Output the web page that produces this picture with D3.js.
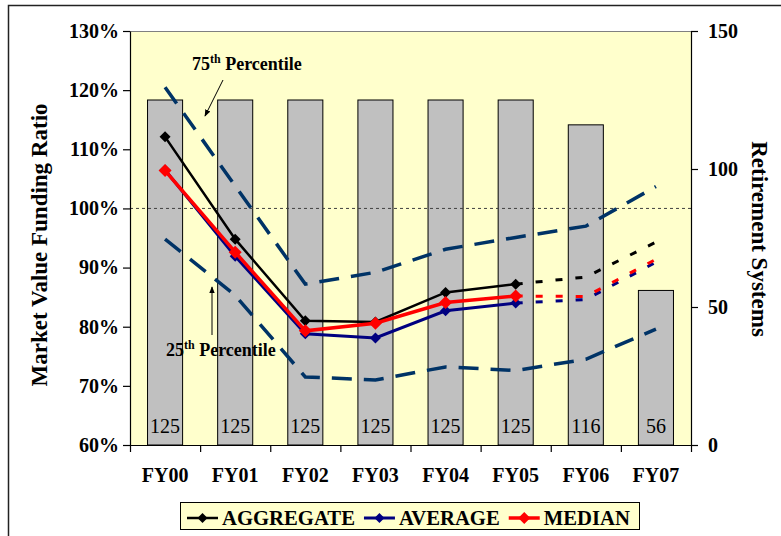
<!DOCTYPE html>
<html>
<head>
<meta charset="utf-8">
<script src="https://cdn.jsdelivr.net/npm/d3@7"></script>
<style>
	body { margin: 0; background: #fff; }
	svg text { font-family: "Times New Roman", "Liberation Serif", serif; font-weight: bold; }
</style>
</head>
<body>
<div id="chartDiv"></div>
<script>
;(function() {

	// data
	var categories = ["FY00", "FY01", "FY02", "FY03", "FY04", "FY05", "FY06", "FY07"];
	var systemCounts = [125, 125, 125, 125, 125, 125, 116, 56];

	var aggregate = [1.121, 0.948, 0.810, 0.808, 0.858, 0.872];
	var average = [1.065, 0.919, 0.788, 0.781, 0.827, 0.840];
	var median = [1.064, 0.926, 0.793, 0.806, 0.841, 0.852];

	// projected (dotted) FY05 -> FY07
	var projCategories = ["FY05", "FY06", "FY07"];
	var aggregateProj = [0.872, 0.884, 0.943];
	var averageProj = [0.840, 0.846, 0.909];
	var medianProj = [0.852, 0.851, 0.914];

	var pct75 = [1.205, 1.038, 0.872, 0.892, 0.931, 0.951, 0.970, 1.037];
	var pct25 = [0.948, 0.853, 0.715, 0.710, 0.732, 0.726, 0.745, 0.796];

	var leftTicks = [0.6, 0.7, 0.8, 0.9, 1.0, 1.1, 1.2, 1.3];
	var rightTicks = [0, 50, 100, 150];

	var width = 781;
	var height = 536;
	var margin = { top: 31, right: 90, bottom: 91, left: 130 };
	var chartWidth = width - margin.left - margin.right;   // 561
	var chartHeight = height - margin.top - margin.bottom; // 414

	var series = [
		{ name: "AGGREGATE", color: "#000000", values: aggregate, proj: aggregateProj, width: 2.5, r: 5.5 },
		{ name: "AVERAGE", color: "#000080", values: average, proj: averageProj, width: 3, r: 5.5 },
		{ name: "MEDIAN", color: "#ff0000", values: median, proj: medianProj, width: 3.5, r: 6.5 }
	];

	var chart = d3.select("#chartDiv").append("svg")
		.attr("width", width)
		.attr("height", height);

	// outer frame
	chart.append("rect")
		.attr("x", 8.5).attr("y", 5.5)
		.attr("width", 900).attr("height", 900)
		.attr("fill", "none")
		.attr("stroke", "#222")
		.attr("stroke-width", 1.5);

	var xScale = d3.scaleBand()
		.domain(categories)
		.range([0, chartWidth])
		.paddingInner(0.5)
		.paddingOuter(0.25);
	var xEdge = d3.scaleLinear().domain([0, categories.length]).range([0, chartWidth]);
	var yScale = d3.scaleLinear().domain([0.6, 1.3]).range([chartHeight, 0]);
	var y2Scale = d3.scaleLinear().domain([0, 150]).range([chartHeight, 0]);

	function cx(c) { return xScale(c) + xScale.bandwidth() / 2; }

	var plot = chart.append("g")
		.attr("transform", "translate(" + margin.left + "," + margin.top + ")");

	// plot background
	plot.append("rect")
		.attr("width", chartWidth).attr("height", chartHeight)
		.attr("fill", "#ffffcc");
	plot.append("line")
		.attr("x1", 0).attr("x2", chartWidth).attr("y1", 0.5).attr("y2", 0.5)
		.attr("stroke", "#808080");

	// bars: number of retirement systems
	plot.selectAll(".bar")
		.data(systemCounts)
		.enter().append("rect")
		.attr("class", "bar")
		.attr("x", function(d, i) { return xScale(categories[i]); })
		.attr("y", function(d) { return y2Scale(d); })
		.attr("width", xScale.bandwidth())
		.attr("height", function(d) { return chartHeight - y2Scale(d); })
		.attr("fill", "#c0c0c0")
		.attr("stroke", "#000")
		.attr("stroke-width", 1);

	plot.selectAll(".barLabel")
		.data(systemCounts)
		.enter().append("text")
		.attr("class", "barLabel")
		.attr("x", function(d, i) { return cx(categories[i]); })
		.attr("y", chartHeight - 12)
		.attr("text-anchor", "middle")
		.attr("fill", "#000")
		.style("font-size", "20px")
		.style("font-weight", "normal")
		.text(function(d) { return d; });

	// 100% reference line
	plot.append("line")
		.attr("x1", 0).attr("x2", chartWidth)
		.attr("y1", yScale(1.0)).attr("y2", yScale(1.0))
		.attr("stroke", "#404040")
		.attr("stroke-width", 1)
		.attr("stroke-dasharray", "3,3");

	var line = d3.line()
		.x(function(d) { return cx(d.c); })
		.y(function(d) { return yScale(d.v); });

	function pairs(cats, vals) {
		return vals.map(function(v, i) { return { c: cats[i], v: v }; });
	}

	// percentile lines
	[pct75, pct25].forEach(function(p) {
		plot.append("path")
			.datum(pairs(categories, p))
			.attr("d", line)
			.attr("fill", "none")
			.attr("stroke", "#003366")
			.attr("stroke-width", 3.5)
			.attr("stroke-dasharray", "20,12");
	});

	function diamond(r) {
		return "M0," + (-r) + "L" + r + ",0L0," + r + "L" + (-r) + ",0Z";
	}

	// projections first (dotted), then the solid lines
	series.forEach(function(s) {
		plot.append("path")
			.datum(pairs(projCategories, s.proj))
			.attr("d", line)
			.attr("fill", "none")
			.attr("stroke", s.color)
			.attr("stroke-width", 3)
			.attr("stroke-dasharray", "7,13");
	});

	series.forEach(function(s) {
		var pts = pairs(categories, s.values);
		plot.append("path")
			.datum(pts)
			.attr("d", line)
			.attr("fill", "none")
			.attr("stroke", s.color)
			.attr("stroke-width", s.width);
		plot.selectAll(".m" + s.name)
			.data(pts)
			.enter().append("path")
			.attr("transform", function(d) { return "translate(" + cx(d.c) + "," + yScale(d.v) + ")"; })
			.attr("d", diamond(s.r))
			.attr("fill", s.color);
	});

	// axes
	var leftAxis = d3.axisLeft(yScale)
		.tickValues(leftTicks)
		.tickFormat(d3.format(".0%"))
		.tickSize(7).tickSizeOuter(0).tickPadding(4);
	var gl = plot.append("g").call(leftAxis);

	var rightAxis = d3.axisRight(y2Scale)
		.tickValues(rightTicks)
		.tickSize(7).tickSizeOuter(0).tickPadding(10);
	var gr = plot.append("g").attr("transform", "translate(" + chartWidth + ",0)").call(rightAxis);

	var bottomAxis = d3.axisBottom(xEdge)
		.tickValues(d3.range(0, categories.length + 1))
		.tickFormat("")
		.tickSize(7).tickSizeOuter(0);
	var gb = plot.append("g").attr("transform", "translate(0," + chartHeight + ")").call(bottomAxis);

	[gl, gr, gb].forEach(function(g) {
		g.selectAll("path, line").attr("stroke", "#000").attr("stroke-width", 1.2);
		g.selectAll("text")
			.attr("fill", "#000")
			.style("font-size", "20px")
			.style("font-family", "'Times New Roman', 'Liberation Serif', serif")
			.style("font-weight", "bold");
	});
	gr.selectAll("text").attr("x", 17);

	plot.selectAll(".xLabel")
		.data(categories)
		.enter().append("text")
		.attr("class", "xLabel")
		.attr("x", function(d) { return cx(d); })
		.attr("y", chartHeight + 37)
		.attr("text-anchor", "middle")
		.style("font-size", "20px")
		.text(function(d) { return d; });

	// axis titles
	chart.append("text")
		.attr("text-anchor", "middle")
		.attr("transform", "translate(47,245) rotate(-90)")
		.style("font-size", "23px")
		.text("Market Value Funding Ratio");

	chart.append("text")
		.attr("text-anchor", "middle")
		.attr("transform", "translate(752,239) rotate(90)")
		.style("font-size", "23px")
		.text("Retirement Systems");

	// percentile annotations
	var defs = chart.append("defs");
	defs.append("marker")
		.attr("id", "arrow")
		.attr("viewBox", "0 0 10 10")
		.attr("refX", 9).attr("refY", 5)
		.attr("markerWidth", 7).attr("markerHeight", 7)
		.attr("orient", "auto")
		.append("path")
		.attr("d", "M0,1L10,5L0,9Z")
		.attr("fill", "#000");

	function annotate(x, y, num) {
		var t = chart.append("text")
			.attr("x", x).attr("y", y)
			.style("font-size", "18px");
		t.append("tspan").text(num);
		t.append("tspan").attr("dy", -7).style("font-size", "12px").text("th");
		t.append("tspan").attr("dy", 7).text(" Percentile");
	}
	annotate(192, 70, "75");
	annotate(166, 356, "25");

	chart.append("line")
		.attr("x1", 223).attr("y1", 80).attr("x2", 205).attr("y2", 116)
		.attr("stroke", "#000").attr("stroke-width", 1)
		.attr("marker-end", "url(#arrow)");
	chart.append("line")
		.attr("x1", 212).attr("y1", 335).attr("x2", 212).attr("y2", 287)
		.attr("stroke", "#000").attr("stroke-width", 1)
		.attr("marker-end", "url(#arrow)");

	// legend
	var legend = chart.append("g");
	legend.append("rect")
		.attr("x", 180.5).attr("y", 502.5)
		.attr("width", 459).attr("height", 27)
		.attr("fill", "#ffffcc")
		.attr("stroke", "#000")
		.attr("stroke-width", 1);

	var lx = 187;
	var ly = 518;
	series.forEach(function(s) {
		legend.append("line")
			.attr("x1", lx).attr("x2", lx + 31)
			.attr("y1", ly).attr("y2", ly)
			.attr("stroke", s.color)
			.attr("stroke-width", s.width);
		legend.append("path")
			.attr("transform", "translate(" + (lx + 15.5) + "," + ly + ")")
			.attr("d", diamond(s.r - 0.5))
			.attr("fill", s.color);
		var t = legend.append("text")
			.attr("x", lx + 35).attr("y", 525)
			.style("font-size", "20.7px")
			.text(s.name);
		lx = lx + 35 + t.node().getComputedTextLength() + 9;
	});

})();
</script>
</body>
</html>
